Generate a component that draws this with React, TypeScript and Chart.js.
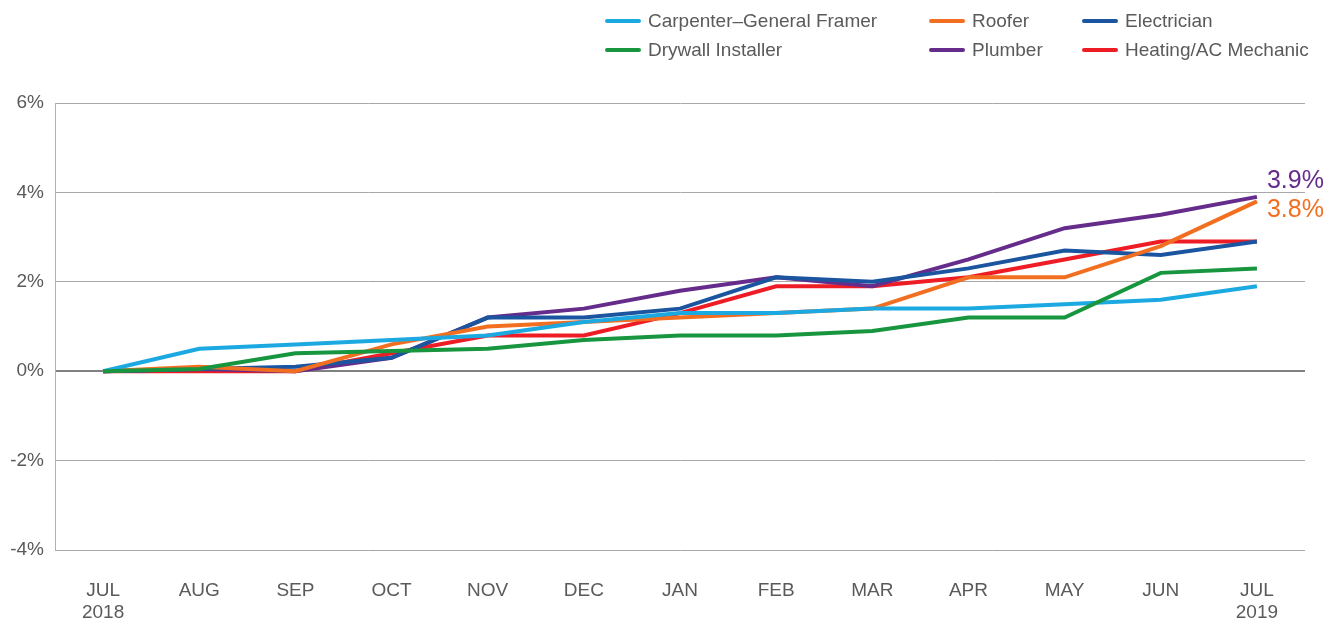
import React, { useEffect, useRef } from "react";
import { Chart, registerables } from "chart.js";
Chart.register(...registerables);

const months: (string | string[])[] = [["JUL", "2018"], "AUG", "SEP", "OCT", "NOV", "DEC", "JAN", "FEB", "MAR", "APR", "MAY", "JUN", ["JUL", "2019"]];
const carpenter = [0, 0.5, 0.6, 0.7, 0.8, 1.1, 1.3, 1.3, 1.4, 1.4, 1.5, 1.6, 1.9];
const drywall = [0, 0.05, 0.4, 0.45, 0.5, 0.7, 0.8, 0.8, 0.9, 1.2, 1.2, 2.2, 2.3];
const roofer = [0, 0.1, 0, 0.6, 1.0, 1.1, 1.2, 1.3, 1.4, 2.1, 2.1, 2.8, 3.8];
const electrician = [0, 0.05, 0.1, 0.3, 1.2, 1.2, 1.4, 2.1, 2.0, 2.3, 2.7, 2.6, 2.9];
const plumber = [0, 0.05, 0, 0.3, 1.2, 1.4, 1.8, 2.1, 1.9, 2.5, 3.2, 3.5, 3.9];
const heating = [0, 0, 0, 0.4, 0.8, 0.8, 1.3, 1.9, 1.9, 2.1, 2.5, 2.9, 2.9];
const yMin = -4;
const yMax = 6;
const yStep = 2;

const C = {
  carpenter: "#1ca9e1",
  drywall: "#17963f",
  roofer: "#f26f21",
  electrician: "#1b55a0",
  plumber: "#652c8b",
  heating: "#ee1c25",
};

const FONT = "'Liberation Sans', Arial, sans-serif";
const TEXT = "#5a5a5a";

const legendItems = [
  { label: "Carpenter\u2013General Framer", color: C.carpenter, x: 605, y: 21 },
  { label: "Roofer", color: C.roofer, x: 929, y: 21 },
  { label: "Electrician", color: C.electrician, x: 1082, y: 21 },
  { label: "Drywall Installer", color: C.drywall, x: 605, y: 50 },
  { label: "Plumber", color: C.plumber, x: 929, y: 50 },
  { label: "Heating/AC Mechanic", color: C.heating, x: 1082, y: 50 },
];

export default function App() {
  const ref = useRef<HTMLCanvasElement>(null);
  useEffect(() => {
    if (!ref.current) return;
    const mk = (label: string, data: number[], color: string, order: number) => ({
      label,
      data,
      borderColor: color,
      backgroundColor: color,
      borderWidth: 4,
      pointRadius: 0,
      tension: 0,
      fill: false,
      order,
    });
    const endLabels = [
      { ds: 4, text: `${plumber[plumber.length - 1]}%`, color: C.plumber, dy: -16 },
      { ds: 2, text: `${roofer[roofer.length - 1]}%`, color: C.roofer, dy: 9 },
    ];
    const endPlugin = {
      id: "endLabels",
      afterDatasetsDraw(chart: any) {
        const ctx = chart.ctx;
        ctx.save();
        ctx.font = `25px ${FONT}`;
        ctx.textBaseline = "middle";
        ctx.textAlign = "left";
        endLabels.forEach((l) => {
          const meta = chart.getDatasetMeta(l.ds);
          const pt = meta.data[meta.data.length - 1];
          ctx.fillStyle = l.color;
          ctx.fillText(l.text, pt.x + 10, pt.y + l.dy);
        });
        ctx.restore();
      },
    };
    const chart = new Chart(ref.current, {
      type: "line",
      data: {
        labels: months as any,
        datasets: [
          mk("Carpenter\u2013General Framer", carpenter, C.carpenter, 2),
          mk("Drywall Installer", drywall, C.drywall, 1),
          mk("Roofer", roofer, C.roofer, 3),
          mk("Electrician", electrician, C.electrician, 4),
          mk("Plumber", plumber, C.plumber, 5),
          mk("Heating/AC Mechanic", heating, C.heating, 6),
        ],
      },
      options: {
        animation: false,
        responsive: false,
        layout: { padding: { top: 103, right: 31, left: 0, bottom: 0 } },
        plugins: { legend: { display: false }, tooltip: { enabled: false } },
        scales: {
          x: {
            offset: true,
            grid: { display: false, drawTicks: false },
            border: { display: false },
            ticks: {
              color: TEXT,
              font: { family: FONT, size: 19, lineHeight: 1.2 },
              padding: 29,
              maxRotation: 0,
              autoSkip: false,
            },
            afterFit: (s: any) => {
              s.height = 72;
            },
          },
          y: {
            min: yMin,
            max: yMax,
            grid: {
              drawTicks: false,
              color: (c: any) => (c.tick && c.tick.value === 0 ? "#808080" : "#a8a8a8"),
              lineWidth: (c: any) => (c.tick && c.tick.value === 0 ? 2 : 1),
            },
            border: { display: true, color: "#b0b0b0", width: 1 },
            ticks: {
              stepSize: yStep,
              color: TEXT,
              font: { family: FONT, size: 19 },
              padding: 11,
              callback: (v: any) => `${v}%`,
            },
            afterFit: (s: any) => {
              s.width = 55;
            },
          },
        },
      },
      plugins: [endPlugin],
    });
    return () => chart.destroy();
  }, []);

  return (
    <div style={{ position: "absolute", left: 0, top: 0, width: 1336, height: 622, background: "#fff", fontFamily: FONT }}>
      <canvas ref={ref} width={1336} height={622} style={{ display: "block" }} />
      {legendItems.map((it) => (
        <div
          key={it.label}
          style={{
            position: "absolute",
            left: it.x,
            top: it.y - 12,
            height: 24,
            display: "flex",
            alignItems: "center",
            whiteSpace: "nowrap",
            color: TEXT,
            fontSize: 19,
          }}
        >
          <span style={{ display: "inline-block", width: 36, height: 4, borderRadius: 2, background: it.color, marginRight: 7 }} />
          <span>{it.label}</span>
        </div>
      ))}
    </div>
  );
}
